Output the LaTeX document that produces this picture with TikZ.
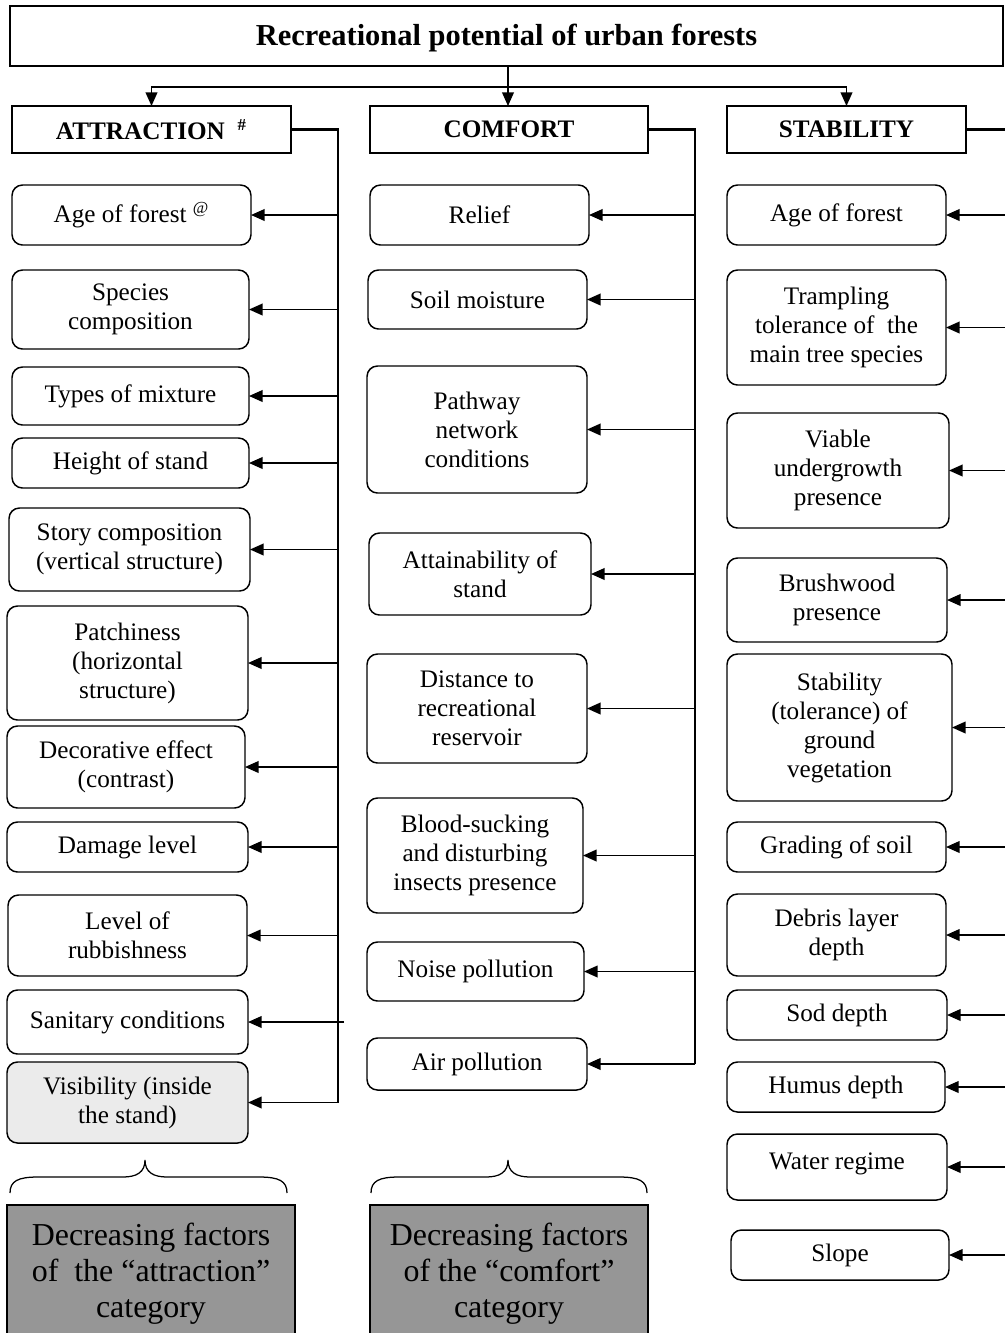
\documentclass[tikz,border=0pt]{standalone}
\usepackage{fontspec}
\setmainfont{Liberation Serif}
\usetikzlibrary{arrows.meta,calc}
\definecolor{decgray}{RGB}{150,150,150}
\definecolor{visgray}{RGB}{235,235,235}
\newcommand\itm[6]{\node[item, minimum width={(#4-#2)*0.4762pt}, minimum height={(#5-#3)*0.4762pt}] (#1) at ({(#2+#4)/2},{(#3+#5)/2}) {#6};}
\newcommand\catbx[6]{\node[catbox, minimum width={(#4-#2)*0.4762pt}, minimum height={(#5-#3)*0.4762pt}] (#1) at ({(#2+#4)/2},{(#3+#5)/2}) {#6};}
\newcommand\mybrace[3]{\draw[bracestyle] (#1,1193) .. controls (#1,1181) and ({#1+8},1177) .. ({#1+28},1177) -- ({#3-22},1177) .. controls ({#3-8},1177) and (#3,1172) .. (#3,1160) .. controls (#3,1172) and ({#3+8},1177) .. ({#3+22},1177) -- ({#2-28},1177) .. controls ({#2-8},1177) and (#2,1181) .. (#2,1193);}
\begin{document}
\begin{tikzpicture}[x=0.4762pt,y=-0.4762pt,
  item/.style={draw, rounded corners=5pt, line width=0.7pt, inner sep=0pt, outer sep=0pt, align=center, font=\fontsize{12}{13.8}\selectfont},
  catbox/.style={draw, line width=0.7pt, inner sep=0pt, outer sep=0pt, align=center, font=\fontsize{12}{13.8}\selectfont\bfseries},
  decbox/.style={fill=decgray, inner sep=0pt, outer sep=0pt},
  dectext/.style={align=center, inner sep=0pt, font=\fontsize{15.2}{17.1}\selectfont},
  trunk/.style={line width=1.2pt},
  conn/.style={line width=0.7pt},
  arr/.style={line width=0.7pt, -{Triangle[length=6.5pt,width=5.6pt]}},
  bracestyle/.style={line width=0.6pt},
  frameline/.style={line width=0.7pt}]
\useasboundingbox (0,0) rectangle (1005,1333);

% title and categories
\catbx{title}{10}{6}{1003}{66}{}
\node[font=\fontsize{14.5}{17}\selectfont\bfseries] (titletext) at ($(title.center)+(0,2)$) {Recreational potential of urban forests};
\catbx{attr}{12}{106}{291}{153}{ATTRACTION\enspace\textsuperscript{\#}}
\catbx{comf}{370}{106}{648}{153}{COMFORT}
\catbx{stab}{727}{106}{966}{153}{STABILITY}

\coordinate (hub) at (508,87);
\draw[conn] (title.south -| hub) -- (hub);
\draw[arr] (hub) -| (attr.north);
\draw[arr] (hub) -- (hub |- comf.north);
\draw[arr] (hub) -| (stab.north);

% attraction items
\itm{a1}{12}{185}{251}{245}{Age of forest \textsuperscript{@}}
\itm{a2}{12}{270}{249}{349}{Species\\composition}
\itm{a3}{12}{367}{249}{425}{Types of mixture}
\itm{a4}{12}{438}{249}{488}{Height of stand}
\itm{a5}{9}{508}{250}{591}{Story composition\\(vertical structure)}
\itm{a6}{7}{606}{248}{720}{Patchiness\\(horizontal\\structure)}
\itm{a7}{7}{726}{245}{808}{Decorative effect\\(contrast)}
\itm{a8}{7}{822}{248}{872}{Damage level}
\itm{a9}{8}{895}{247}{976}{Level of\\rubbishness}
\itm{a10}{7}{990}{248}{1054}{Sanitary conditions}
\node[item, fill=visgray, minimum width={(248-7)*0.4762pt}, minimum height={(1143-1062)*0.4762pt}] (a11) at ({(7+248)/2},{(1062+1143)/2}) {Visibility (inside\\the stand)};

% comfort items
\itm{c1}{370}{185}{589}{245}{Relief}
\itm{c2}{368}{270}{587}{329}{Soil moisture}
\itm{c3}{367}{366}{587}{493}{Pathway\\network\\conditions}
\itm{c4}{369}{533}{591}{615}{Attainability of\\stand}
\itm{c5}{367}{654}{587}{763}{Distance to\\recreational\\reservoir}
\itm{c6}{367}{798}{583}{913}{Blood-sucking\\and disturbing\\insects presence}
\itm{c7}{367}{942}{584}{1001}{Noise pollution}
\itm{c8}{367}{1038}{587}{1090}{Air pollution}

% stability items
\itm{s1}{727}{185}{946}{245}{Age of forest}
\itm{s2}{727}{270}{946}{385}{Trampling\\tolerance of~ the\\main tree species}
\itm{s3}{727}{413}{949}{528}{Viable\\undergrowth\\presence}
\itm{s4}{727}{558}{947}{642}{Brushwood\\presence}
\itm{s5}{727}{654}{952}{801}{Stability\\(tolerance) of\\ground\\vegetation}
\itm{s6}{727}{822}{946}{872}{Grading of soil}
\itm{s7}{727}{894}{946}{976}{Debris layer\\depth}
\itm{s8}{727}{990}{947}{1040}{Sod depth}
\itm{s9}{727}{1062}{945}{1112}{Humus depth}
\itm{s10}{727}{1134}{947}{1200}{Water regime\\[-8pt]}
\itm{s11}{731}{1230}{949}{1280}{Slope}

% trunks
\coordinate (aX) at ($(attr.east)+(47,0)$);
\coordinate (cX) at ($(comf.east)+(47,0)$);
\coordinate (sX) at ($(stab.east)+(39,0)$);
\draw[trunk] (attr.east) -- (aX) -- (aX |- a11.east);
\draw[trunk] (comf.east) -- (cX) -- (cX |- c8.east);
\draw[trunk] (stab.east) -- (sX);

\foreach \n in {a1,a2,a3,a4,a5,a6,a7,a8,a9,a11}{\draw[arr] (aX |- \n.east) -- (\n.east);}
\draw[arr] ($(aX |- a10.east)+(6,0)$) -- (a10.east);
\foreach \n in {c1,c2,c3,c4,c5,c6,c7,c8}{\draw[arr] (cX |- \n.east) -- (\n.east);}
\foreach \n in {s1,s2,s3,s4,s5,s6,s7,s8,s9,s10,s11}{\draw[arr] (sX |- \n.east) -- (\n.east);}

% braces
\mybrace{10}{287}{145}
\mybrace{371}{647}{508}

% decreasing-factor boxes
\node[decbox, minimum width={(295-7)*0.4762pt}, minimum height={(1333-1205)*0.4762pt}] (gA) at ({(7+295)/2},{(1205+1333)/2}) {};
\node[decbox, minimum width={(648-370)*0.4762pt}, minimum height={(1333-1205)*0.4762pt}] (gC) at ({(370+648)/2},{(1205+1333)/2}) {};
\draw[frameline] (gA.south west) |- (gA.north east) -- (gA.south east);
\draw[frameline] (gC.south west) |- (gC.north east) -- (gC.south east);
\node[dectext] (gAt) at ($(gA.center)+(0,5)$) {Decreasing factors\\of~ the “attraction”\\category};
\node[dectext] (gCt) at ($(gC.center)+(0,5)$) {Decreasing factors\\of the “comfort”\\category};
\end{tikzpicture}
\end{document}
